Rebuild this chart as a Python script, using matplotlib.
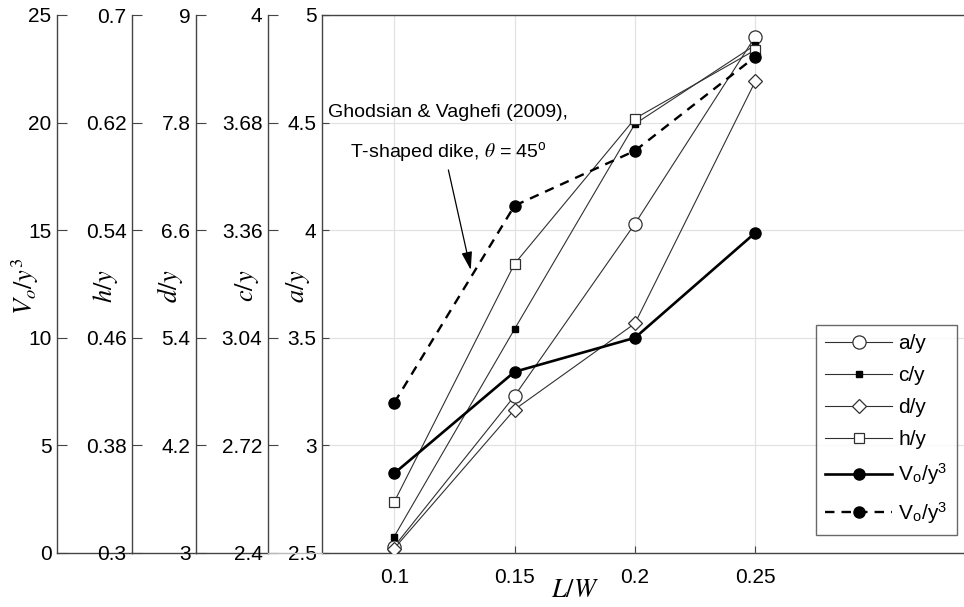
import matplotlib
matplotlib.use("Agg")
import matplotlib.pyplot as plt

plt.rcParams["font.family"] = ["Liberation Sans", "DejaVu Sans"]
plt.rcParams["mathtext.fontset"] = "stix"

# data
lw_ratio = [0.1, 0.15, 0.2, 0.25]
a_y = [2.53, 3.23, 4.03, 4.90]
c_y = [2.449, 3.066, 3.676, 3.911]
d_y = [3.05, 4.60, 5.56, 8.26]
h_y = [0.338, 0.515, 0.623, 0.674]
vo_y3 = [3.70, 8.42, 10.0, 14.88]
vo_y3_gv = [6.98, 16.14, 18.69, 23.06]

a_ticks = [2.5, 3, 3.5, 4, 4.5, 5]
c_ticks = [2.4, 2.72, 3.04, 3.36, 3.68, 4]
d_ticks = [3, 4.2, 5.4, 6.6, 7.8, 9]
h_ticks = [0.3, 0.38, 0.46, 0.54, 0.62, 0.7]
vo_ticks = [0, 5, 10, 15, 20, 25]
x_ticks = [0.1, 0.15, 0.2, 0.25]

W, H = 964, 607
TOP, BOT = 15, 553
AX_COL = "#444444"
LINE_COL = "#303030"
TICK_FS = 15
LABEL_FS = 19


def rect(x0, x1):
    return [x0 / W, (H - BOT) / H, (x1 - x0) / W, (BOT - TOP) / H]


def to_a(vals, lo, hi):
    return [2.5 + (v - lo) / (hi - lo) * 2.5 for v in vals]


fig = plt.figure(figsize=(W / 100, H / 100), dpi=100)
fig.patch.set_facecolor("white")

# main axes (a/y)
ax = fig.add_axes(rect(322, 964))
ax.set_xlim(0.07, 0.3367)
ax.set_ylim(2.5, 5)
ax.set_xticks(x_ticks)
ax.set_xticklabels(["0.1", "0.15", "0.2", "0.25"])
ax.set_yticks(a_ticks)
ax.set_yticklabels(["2.5", "3", "3.5", "4", "4.5", "5"])
ax.grid(True, color="#e2e2e2", lw=0.9)
ax.set_axisbelow(True)
ax.tick_params(direction="in", length=5, width=0.8, color=AX_COL,
               labelsize=TICK_FS, pad=4)
ax.tick_params(axis="x", pad=11)
for s in ["left", "bottom", "top"]:
    ax.spines[s].set_color(AX_COL)
    ax.spines[s].set_linewidth(1.0)
ax.spines["right"].set_visible(False)

# extra left axes
extras = [
    (57, 132, (0, 25), vo_ticks, ["0", "5", "10", "15", "20", "25"]),
    (132, 196, (0.3, 0.7), h_ticks, ["0.3", "0.38", "0.46", "0.54", "0.62", "0.7"]),
    (196, 268, (3, 9), d_ticks, ["3", "4.2", "5.4", "6.6", "7.8", "9"]),
    (268, 322, (2.4, 4), c_ticks, ["2.4", "2.72", "3.04", "3.36", "3.68", "4"]),
]
for x0, x1, lim, ticks, labels in extras:
    a2 = fig.add_axes(rect(x0, x1))
    a2.patch.set_visible(False)
    a2.set_ylim(*lim)
    a2.set_yticks(ticks)
    a2.set_yticklabels(labels)
    a2.set_xticks([])
    a2.tick_params(direction="in", length=7, width=0.8, color=AX_COL,
                   labelsize=TICK_FS, pad=4)
    for s in ["top", "right"]:
        a2.spines[s].set_visible(False)
    a2.spines["left"].set_color(AX_COL)
    a2.spines["left"].set_linewidth(1.0)
    if x0 == 268:
        a2.spines["bottom"].set_color("#bbbbbb")
    else:
        a2.spines["bottom"].set_color(AX_COL)
    a2.spines["bottom"].set_linewidth(1.0)

# axis titles
y_names = [(r"$V_o/y^3$", 25), (r"$h/y$", 105), (r"$d/y$", 170),
           (r"$c/y$", 247), (r"$a/y$", 298)]
for name, lx in y_names:
    fig.text(lx / W, 1 - 286 / H, name, fontsize=LABEL_FS, rotation=90,
             ha="center", va="center")
fig.text(575 / W, 1 - 590 / H, r"$L/W$", fontsize=LABEL_FS,
         ha="center", va="center")

ax.plot(lw_ratio, a_y, "-", color=LINE_COL, lw=0.8, marker="o", ms=9.5,
        mfc="white", mec=LINE_COL, mew=0.9, label="a/y", zorder=3)
ax.plot(lw_ratio, to_a(c_y, 2.4, 4), "-", color=LINE_COL, lw=0.8, marker="s",
        ms=4.5, mfc="black", mec="black", label="c/y", zorder=3)
ax.plot(lw_ratio, to_a(d_y, 3, 9), "-", color=LINE_COL, lw=0.8, marker="D",
        ms=7.5, mfc="white", mec=LINE_COL, mew=0.9, label="d/y", zorder=3)
ax.plot(lw_ratio, to_a(h_y, 0.3, 0.7), "-", color=LINE_COL, lw=0.8, marker="s",
        ms=7, mfc="white", mec=LINE_COL, mew=0.9, label="h/y", zorder=3)
ax.plot(lw_ratio, to_a(vo_y3, 0, 25), "-", color="black", lw=1.9, marker="o",
        ms=8, mfc="black", mec="black",
        label=r"V$_\mathregular{o}$/y$^\mathregular{3}$", zorder=4)
ax.plot(lw_ratio, to_a(vo_y3_gv, 0, 25), "--", color="black", lw=1.7,
        marker="o", ms=8, mfc="black", mec="black", dashes=(4, 3),
        label=r"V$_\mathregular{o}$/y$^\mathregular{3}$", zorder=4)

# annotation
ax.text(0.1225, 4.545, "Ghodsian & Vaghefi (2009),", fontsize=14,
        ha="center", va="center")
ax.text(0.1225, 4.36, r"T-shaped dike, $\theta$ = 45$^\mathregular{o}$",
        fontsize=14, ha="center", va="center")
ax.annotate("", xy=(0.1318, 3.815), xytext=(0.1225, 4.28),
            arrowprops=dict(arrowstyle="-|>,head_length=1.1,head_width=0.32",
                            color="black", lw=0.9, shrinkA=0, shrinkB=0))

leg = ax.legend(loc="lower right", bbox_to_anchor=(957 / W, (H - 535) / H),
                bbox_transform=fig.transFigure, fontsize=15, frameon=True,
                fancybox=False, edgecolor=AX_COL, handlelength=3.2,
                labelspacing=0.62, borderpad=0.45, handletextpad=0.3,
                borderaxespad=0)
leg.get_frame().set_linewidth(1.0)

fig.savefig("out.png", dpi=100)
